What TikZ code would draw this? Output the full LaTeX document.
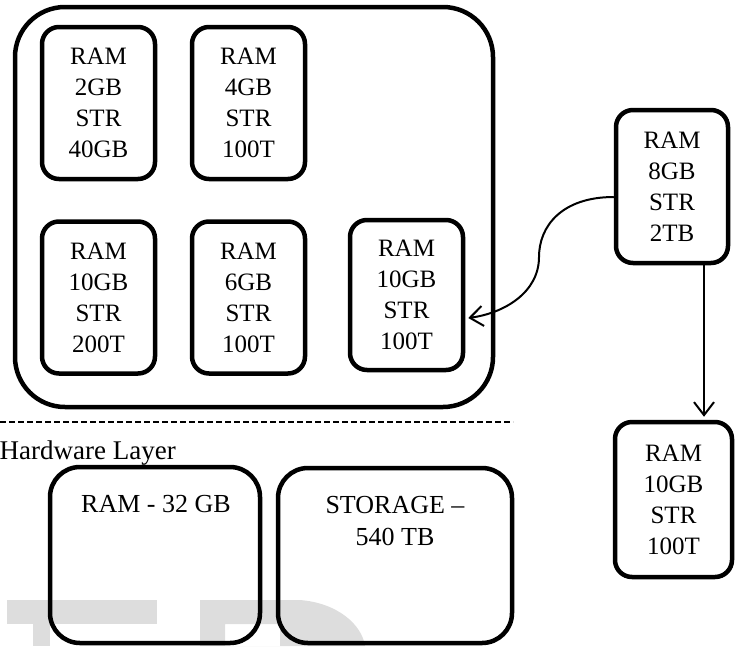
\documentclass[tikz,border=0pt]{standalone}
\usepackage{fontspec}
\setmainfont{Liberation Serif}
\usetikzlibrary{arrows.meta,calc}
\definecolor{wmgrey}{RGB}{221,221,221}
\tikzset{
  vm/.style={draw, line width=4.5pt, rounded corners=17pt, minimum width=113pt,
    minimum height=152pt, inner sep=0pt, align=center, font=\fontsize{25}{31}\selectfont},
  hwbox/.style={draw, line width=4.5pt, rounded corners=30pt, inner sep=0pt},
  lbl/.style={inner sep=0pt, align=center, font=\fontsize{26}{32}\selectfont},
  conn/.style={line width=2pt, -{Straight Barb[length=13pt,width=20pt,line width=2pt]}},
  wm/.style={fill=wmgrey}
}
\begin{document}
\begin{tikzpicture}[x=1pt,y=-1pt]
\useasboundingbox (0,0) rectangle (741,646);
% watermark
\fill[wm] (7,600) rectangle (157,624);
\fill[wm] (33,624) rectangle (50,646);
\fill[wm, even odd rule] (200,600) -- (300,600) .. controls (338,603) and (362,625) .. (365,646) -- (200,646) -- cycle
  (225,624) rectangle (280,646);
% outer container
\node[draw, line width=4.5pt, rounded corners=50pt, minimum width=478pt, minimum height=400pt] (outer) at (254,207) {};
% VMs
\node[vm] (b1) at (98.5,103) {RAM\\2GB\\STR\\40GB};
\node[vm] (b2) at (248.5,103) {RAM\\4GB\\STR\\100T};
\node[vm] (b3) at (98.5,297.5) {RAM\\10GB\\STR\\200T};
\node[vm] (b4) at (248.5,297.5) {RAM\\6GB\\STR\\100T};
\node[vm, minimum height=150pt] (b5) at (406.5,295) {RAM\\10GB\\STR\\100T};
\node[vm, minimum width=112pt, minimum height=153pt] (r8) at (672,186.5) {RAM\\8GB\\STR\\2TB};
\node[vm, minimum width=117pt, minimum height=155pt] (r10) at (673.5,499.5) {RAM\\10GB\\STR\\100T};
% connectors
\coordinate (cs) at ($(r8.west)+(0,10.5)$);
\coordinate (ce) at ($(b5.east)+(3,23)$);
\draw[conn] (cs) .. controls (562,197) and (539,226) .. (539,257) .. controls (539,292) and (505,313) .. (ce);
\coordinate (vs) at ($(r8.south)+(32,0)$);
\draw[conn] (vs) -- ($(vs |- r10.north)+(0,-3)$);
% dashed separator
\coordinate (d1) at (0,422);
\coordinate (d2) at (513,422);
\draw[line width=1.2pt, dash pattern=on 6pt off 3pt] (d1) -- (d2);
\node[lbl, font=\fontsize{27}{32}\selectfont, anchor=base east] (hwl) at (176,459) {Hardware Layer};
% hardware boxes
\node[hwbox, minimum width=210pt, minimum height=176pt] (hwram) at (155,555) {};
\node[hwbox, minimum width=234pt, minimum height=175pt] (hwstor) at (395,555.5) {};
\node[lbl, anchor=base] (hwramt) at (156,512) {RAM - 32 GB};
\node[lbl, anchor=north] (hwstort) at (395,496.5) {STORAGE –\\540 TB};
\end{tikzpicture}
\end{document}
